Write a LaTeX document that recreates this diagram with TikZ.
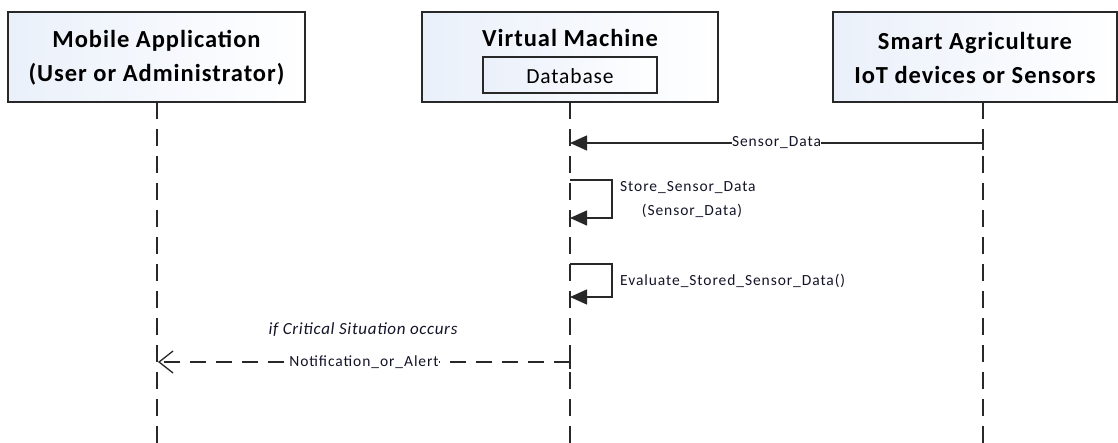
\documentclass[tikz,border=0pt]{standalone}
\usepackage{fontspec}
\setmainfont{Carlito}
\usetikzlibrary{arrows.meta}
\definecolor{boxfill}{RGB}{234,240,250}
\definecolor{linegray}{RGB}{40,40,40}
\definecolor{txt}{RGB}{20,20,40}
\begin{document}
\begin{tikzpicture}[x=1pt,y=-1pt,
  hbox/.style={draw=linegray, line width=1.3pt, left color=boxfill, right color=white, inner sep=0pt},
  dbbox/.style={draw=linegray, line width=1.1pt, left color=boxfill, right color=white, inner sep=0pt},
  title/.style={font=\fontsize{24.5}{34}\selectfont\bfseries\addfontfeature{LetterSpace=4}, align=center, text=black, inner sep=0pt},
  dbtext/.style={font=\fontsize{21.5}{24}\selectfont\addfontfeature{LetterSpace=4}, text=black, inner sep=0pt},
  lifeline/.style={draw=linegray, line width=1.6pt, dash pattern=on 17pt off 10pt},
  msg/.style={draw=linegray, line width=1.3pt},
  synch/.style={msg, -{Triangle[length=17pt,width=15pt]}},
  reply/.style={msg, dash pattern=on 16pt off 10pt, -{Straight Barb[length=14pt,width=22pt,line width=1.3pt]}},
  lbl/.style={font=\fontsize{15.5}{18}\selectfont\addfontfeature{LetterSpace=6}, text=txt, inner sep=1pt},
  onlbl/.style={lbl, fill=white, inner sep=0.5pt},
]
\useasboundingbox (0,0) rectangle (1118,443);

% header boxes
\node[hbox, minimum width=297pt, minimum height=90pt] (mob) at (156.5,57) {};
\node[title] (mobt) at (156.5,58) {Mobile Application\\(User or Administrator)};

\node[hbox, minimum width=296pt, minimum height=90pt] (vm) at (570,57) {};
\node[title] (vmt) at (570,38) {Virtual Machine};
\node[dbbox, minimum width=174pt, minimum height=36pt] (db) at (570,75) {};
\node[dbtext] (dbt) at (570,76) {Database};

\node[hbox, minimum width=284pt, minimum height=90pt] (iot) at (975,57) {};
\node[title] (iott) at (975,58) {Smart Agriculture\\IoT devices or Sensors};

% lifelines
\coordinate (mobend) at (157,443);
\coordinate (vmend) at (570,443);
\coordinate (iotend) at (983,443);
\coordinate (mobtop) at (157,102);
\coordinate (vmtop) at (570,102);
\coordinate (iottop) at (983,102);
\draw[lifeline] (mobtop) -- (mobend);
\draw[lifeline] (vmtop) -- (vmend);
\draw[lifeline] (iottop) -- (iotend);

% Sensor_Data
\coordinate (s1a) at (983,143);
\coordinate (s1b) at (570,143);
\draw[synch] (s1a) -- node[onlbl] (l1) {Sensor\_Data} (s1b);
\draw[linegray, line width=1.3pt] (983,136) -- (983,150);

% Store self message
\coordinate (s2a) at (570,180);
\coordinate (s2b) at (612,180);
\coordinate (s2c) at (612,218);
\coordinate (s2d) at (570,218);
\draw[synch] (s2a) -- (s2b) -- (s2c) -- (s2d);
\node[lbl, anchor=west] (l2a) at (619,188) {Store\_Sensor\_Data};
\node[lbl] (l2b) at (692,211) {(Sensor\_Data)};

% Evaluate self message
\coordinate (s3a) at (570,264);
\coordinate (s3b) at (612,264);
\coordinate (s3c) at (612,297);
\coordinate (s3d) at (570,297);
\draw[synch] (s3a) -- (s3b) -- (s3c) -- (s3d);
\node[lbl, anchor=west] (l3) at (619,281) {Evaluate\_Stored\_Sensor\_Data()};

% Notification
\coordinate (s4a) at (570,362);
\coordinate (s4b) at (158,362);
\draw[reply] (s4a) -- node[onlbl, pos=0.5] (l4) {Notification\_or\_Alert} (s4b);
\draw[linegray, line width=1.3pt] (570,355) -- (570,369);
\node[lbl, font=\fontsize{17}{20}\selectfont\itshape\addfontfeature{LetterSpace=4}] (l4c) at (363,330) {if Critical Situation occurs};
\end{tikzpicture}
\end{document}
